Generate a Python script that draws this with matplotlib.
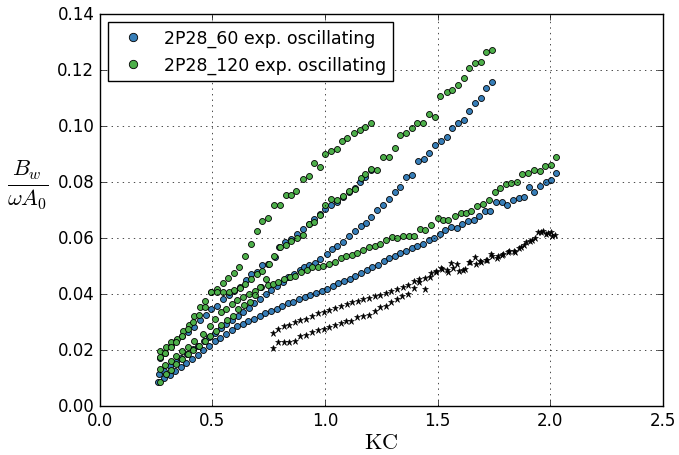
import matplotlib
matplotlib.use('Agg')
import matplotlib.pyplot as plt

# blue: 2P28_60 exp. oscillating (three runs)
b1_kc = [0.26, 0.285, 0.31, 0.335, 0.36, 0.385, 0.41, 0.435, 0.46, 0.485, 0.51, 0.535, 0.56, 0.585,
         0.61, 0.635, 0.66, 0.685, 0.71, 0.735, 0.76, 0.785, 0.81, 0.835, 0.86, 0.885, 0.91, 0.935,
         0.96, 0.985, 1.01, 1.035, 1.06, 1.085, 1.11, 1.135, 1.16, 1.185, 1.21, 1.235, 1.26, 1.285,
         1.31, 1.335, 1.36, 1.385, 1.41, 1.435, 1.46, 1.485, 1.51, 1.535, 1.56, 1.585, 1.61, 1.635,
         1.66, 1.685, 1.71, 1.735, 1.76, 1.785, 1.81, 1.835, 1.86, 1.885, 1.905, 1.93, 1.955, 1.98,
         2.005, 2.028]
b1_y = [0.0085, 0.0098, 0.011, 0.0125, 0.0137, 0.0152, 0.0168, 0.018, 0.0198, 0.0213, 0.023, 0.0243,
        0.0256, 0.0272, 0.0283, 0.0292, 0.0303, 0.0311, 0.0321, 0.0331, 0.0338, 0.0345, 0.0357, 0.0366,
        0.0372, 0.038, 0.0387, 0.0396, 0.0403, 0.041, 0.0418, 0.0427, 0.0437, 0.0445, 0.0454, 0.0462,
        0.0474, 0.0485, 0.0494, 0.0504, 0.0515, 0.0526, 0.0536, 0.0544, 0.0553, 0.0562, 0.0572, 0.0579,
        0.0591, 0.0599, 0.0612, 0.0627, 0.0637, 0.0633, 0.065, 0.066, 0.0664, 0.0678, 0.0695, 0.0696,
        0.0726, 0.0729, 0.0717, 0.0736, 0.0741, 0.0745, 0.0782, 0.0762, 0.0784, 0.0798, 0.0807, 0.083]

b2_kc = [0.262, 0.287, 0.312, 0.337, 0.362, 0.387, 0.412, 0.437, 0.462, 0.487, 0.512, 0.537, 0.562,
         0.587, 0.612, 0.637, 0.662, 0.687, 0.712, 0.737, 0.762, 0.787, 0.812, 0.837, 0.862, 0.887,
         0.905, 0.928, 0.955, 0.98, 1.007, 1.032, 1.055, 1.08, 1.107, 1.132, 1.158, 1.181, 1.206,
         1.233, 1.258, 1.285, 1.31, 1.335, 1.362, 1.387, 1.413, 1.439, 1.462, 1.49, 1.514, 1.54,
         1.565, 1.591, 1.616, 1.64, 1.665, 1.692, 1.717, 1.742]
b2_y = [0.0113, 0.0125, 0.0142, 0.0157, 0.0172, 0.0185, 0.0202, 0.0214, 0.0232, 0.0246, 0.026, 0.0279,
        0.0292, 0.0306, 0.032, 0.0336, 0.035, 0.0366, 0.0381, 0.0398, 0.0412, 0.0428, 0.0442, 0.0458,
        0.0472, 0.0486, 0.0496, 0.0503, 0.051, 0.0524, 0.0542, 0.056, 0.0571, 0.0586, 0.0605, 0.0625,
        0.064, 0.0651, 0.0675, 0.07, 0.0718, 0.0738, 0.0764, 0.0782, 0.0816, 0.0824, 0.0873, 0.0881,
        0.0901, 0.0932, 0.0946, 0.0961, 0.099, 0.1009, 0.1021, 0.1054, 0.108, 0.110, 0.1134, 0.1155]

b3_kc = [0.266, 0.29, 0.315, 0.34, 0.367, 0.392, 0.419, 0.445, 0.471, 0.496, 0.522, 0.548, 0.574,
         0.598, 0.623, 0.648, 0.673, 0.696, 0.722, 0.747, 0.777, 0.796, 0.822, 0.85, 0.877, 0.903,
         0.928, 0.952, 0.977, 1.002, 1.029, 1.055, 1.08, 1.107, 1.132, 1.155, 1.18, 1.206]
b3_y = [0.0169, 0.019, 0.0214, 0.023, 0.025, 0.0265, 0.028, 0.0305, 0.0325, 0.0345, 0.0357, 0.0381,
        0.0395, 0.041, 0.0425, 0.0448, 0.047, 0.0476, 0.0504, 0.0506, 0.053, 0.0566, 0.0584, 0.0595,
        0.0612, 0.0631, 0.065, 0.0667, 0.0685, 0.0702, 0.0715, 0.0728, 0.0745, 0.0762, 0.0778, 0.0798,
        0.0816, 0.0842]

# green: 2P28_120 exp. oscillating (four runs)
g1_kc = [0.266, 0.293, 0.318, 0.345, 0.37, 0.395, 0.419, 0.444, 0.469, 0.495, 0.52, 0.545, 0.57,
         0.595, 0.619, 0.647, 0.67, 0.696, 0.722, 0.747, 0.774, 0.799, 0.826, 0.851, 0.873, 0.903,
         0.928, 0.952, 0.977, 1.002, 1.029, 1.055, 1.076, 1.1, 1.128, 1.155, 1.18, 1.206]
g1_y = [0.0194, 0.0211, 0.0226, 0.0238, 0.0268, 0.029, 0.0319, 0.0351, 0.0373, 0.0405, 0.0418, 0.044,
        0.0456, 0.0475, 0.0497, 0.0534, 0.0578, 0.0625, 0.0661, 0.0669, 0.0718, 0.0718, 0.0753, 0.0754,
        0.0768, 0.081, 0.0821, 0.0867, 0.0851, 0.0899, 0.0911, 0.0917, 0.0946, 0.0955, 0.0973, 0.0985,
        0.0994, 0.1009]

g2_kc = [0.266, 0.29, 0.315, 0.34, 0.365, 0.39, 0.415, 0.44, 0.466, 0.496, 0.522, 0.547, 0.574,
         0.596, 0.622, 0.644, 0.67, 0.696, 0.72, 0.75, 0.775, 0.799, 0.826, 0.851, 0.877, 0.903,
         0.928, 0.952, 0.977, 1.002, 1.029, 1.055, 1.081, 1.107, 1.132, 1.159, 1.18, 1.206, 1.231,
         1.258, 1.283, 1.31, 1.335, 1.362, 1.387, 1.41, 1.436, 1.462, 1.488, 1.513, 1.54, 1.565,
         1.591, 1.616, 1.64, 1.667, 1.692, 1.717, 1.742]
g2_y = [0.0173, 0.019, 0.021, 0.0228, 0.025, 0.0275, 0.03, 0.0325, 0.0352, 0.0405, 0.0405, 0.0405,
        0.0406, 0.0414, 0.042, 0.0435, 0.0452, 0.047, 0.0482, 0.0506, 0.0535, 0.0566, 0.0575, 0.0588,
        0.0598, 0.061, 0.0649, 0.0655, 0.068, 0.0718, 0.0738, 0.0735, 0.075, 0.0768, 0.0774, 0.0812,
        0.0828, 0.0845, 0.0843, 0.0887, 0.0889, 0.092, 0.0967, 0.0973, 0.099, 0.101, 0.1009, 0.1042,
        0.103, 0.1107, 0.1119, 0.1129, 0.1146, 0.1169, 0.1205, 0.1224, 0.1226, 0.1264, 0.127]

g3_kc = [0.266, 0.29, 0.315, 0.34, 0.365, 0.39, 0.42, 0.459, 0.488, 0.511, 0.54, 0.562, 0.585, 0.61,
         0.636, 0.662, 0.688, 0.718, 0.745, 0.77, 0.792, 0.818, 0.844, 0.869, 0.893, 0.918, 0.943,
         0.967, 0.992, 1.017, 1.044, 1.069, 1.095, 1.12, 1.144, 1.169, 1.196, 1.221, 1.246, 1.273,
         1.298, 1.322, 1.347, 1.372, 1.396, 1.421, 1.446, 1.473, 1.5, 1.524, 1.547, 1.576, 1.602,
         1.625, 1.65, 1.675, 1.702, 1.729, 1.754, 1.776, 1.803, 1.828, 1.855, 1.877, 1.902, 1.929,
         1.954, 1.979, 2.003, 2.028]
g3_y = [0.013, 0.0145, 0.016, 0.0178, 0.0195, 0.021, 0.0232, 0.0256, 0.0286, 0.031, 0.0333, 0.0345,
        0.0363, 0.0378, 0.039, 0.0398, 0.0409, 0.0423, 0.043, 0.0435, 0.0441, 0.0452, 0.0459, 0.0464,
        0.0476, 0.0485, 0.0494, 0.0497, 0.05, 0.0506, 0.0514, 0.0527, 0.0534, 0.0539, 0.0545, 0.0555,
        0.0565, 0.0572, 0.0578, 0.0593, 0.0603, 0.06, 0.0607, 0.0607, 0.0607, 0.0632, 0.0627, 0.0647,
        0.067, 0.0663, 0.0663, 0.0679, 0.0688, 0.0688, 0.0696, 0.0714, 0.072, 0.0736, 0.0762, 0.0776,
        0.0792, 0.0794, 0.0798, 0.0828, 0.083, 0.0842, 0.0839, 0.0857, 0.0861, 0.0887]

g4_kc = [0.266, 0.292, 0.315, 0.34, 0.363, 0.39, 0.415, 0.44, 0.466, 0.49, 0.515, 0.54, 0.565, 0.59,
         0.615, 0.64, 0.665, 0.69, 0.71, 0.736]
g4_y = [0.0086, 0.0115, 0.0128, 0.0149, 0.0168, 0.0183, 0.0198, 0.0212, 0.023, 0.0248, 0.0268, 0.029,
        0.0305, 0.0322, 0.0345, 0.036, 0.0372, 0.0395, 0.0423, 0.0453]

# black stars (no legend entry)
s1_kc = [0.77, 0.792, 0.817, 0.84, 0.866, 0.891, 0.917, 0.943, 0.97, 0.994, 1.018, 1.044, 1.07, 1.096,
         1.122, 1.145, 1.169, 1.196, 1.221, 1.246, 1.27, 1.295, 1.32, 1.345, 1.369, 1.394, 1.418,
         1.443, 1.47, 1.492, 1.517, 1.54, 1.561, 1.588, 1.613, 1.64, 1.665, 1.69, 1.716, 1.739, 1.765,
         1.788, 1.813, 1.838, 1.862, 1.885, 1.909, 1.935, 1.961, 1.98, 2.006, 2.02]
s1_y = [0.026, 0.0274, 0.0286, 0.029, 0.0298, 0.0307, 0.031, 0.0321, 0.033, 0.0335, 0.0343, 0.0349,
        0.0357, 0.0362, 0.0369, 0.0374, 0.038, 0.0386, 0.0392, 0.0396, 0.0402, 0.041, 0.0417, 0.0424,
        0.0431, 0.0446, 0.0452, 0.0455, 0.0473, 0.0482, 0.0493, 0.0485, 0.0509, 0.0507, 0.0486, 0.0514,
        0.053, 0.0518, 0.0521, 0.0542, 0.0527, 0.0538, 0.0548, 0.0552, 0.0563, 0.0575, 0.0589, 0.06,
        0.0621, 0.0613, 0.0619, 0.061]

s2_kc = [0.767, 0.792, 0.817, 0.842, 0.866, 0.891, 0.917, 0.943, 0.97, 0.994, 1.018, 1.044, 1.07,
         1.095, 1.117, 1.143, 1.169, 1.196, 1.221, 1.246, 1.27, 1.295, 1.32, 1.344, 1.369, 1.394,
         1.418, 1.443, 1.468, 1.495, 1.52, 1.546, 1.57, 1.595, 1.62, 1.643, 1.669, 1.693, 1.718,
         1.744, 1.768, 1.792, 1.817, 1.842, 1.872, 1.894, 1.92, 1.946, 1.968, 1.99, 2.01]
s2_y = [0.0205, 0.0226, 0.0228, 0.0229, 0.023, 0.025, 0.0251, 0.0262, 0.0271, 0.0275, 0.028, 0.0287,
        0.0295, 0.0302, 0.0304, 0.0316, 0.0322, 0.0325, 0.0338, 0.0351, 0.0357, 0.0369, 0.0381, 0.0393,
        0.0399, 0.042, 0.0441, 0.0417, 0.0459, 0.0476, 0.0488, 0.0476, 0.049, 0.0482, 0.0488, 0.0514,
        0.0505, 0.0512, 0.052, 0.0534, 0.0536, 0.0543, 0.0552, 0.0548, 0.0566, 0.0584, 0.059, 0.062,
        0.0623, 0.0615, 0.0607]

blue = '#377eb8'
green = '#4daf4a'

plt.style.use('classic')
plt.rcParams['font.family'] = ['DejaVu Sans']
plt.rcParams['font.size'] = 12

fig = plt.figure(figsize=(6.79, 4.56), dpi=100, facecolor='white')
ax = fig.add_axes([0.147, 0.108, 0.829, 0.86])

mk = dict(linestyle='none', marker='o', markersize=4.3, markeredgecolor='black', markeredgewidth=0.6)

ax.plot(b1_kc, b1_y, color=blue, label='2P28_60 exp. oscillating', **mk)
ax.plot(b2_kc, b2_y, color=blue, **mk)
ax.plot(b3_kc, b3_y, color=blue, **mk)

ax.plot(g1_kc, g1_y, color=green, label='2P28_120 exp. oscillating', **mk)
ax.plot(g2_kc, g2_y, color=green, **mk)
ax.plot(g3_kc, g3_y, color=green, **mk)
ax.plot(g4_kc, g4_y, color=green, **mk)

# stars drawn last so they sit on top
star = dict(linestyle='none', marker='*', markersize=5, color='black', markeredgecolor='black',
            markeredgewidth=0.4)
ax.plot(s1_kc, s1_y, **star)
ax.plot(s2_kc, s2_y, **star)

ax.set_xlim(0, 2.5)
ax.set_ylim(0, 0.14)
ax.grid(True)

ax.set_xlabel(r'$\mathrm{KC}$', fontsize=16, labelpad=2)
ax.set_ylabel(r'$\frac{B_w}{\omega A_0}$', fontsize=23, rotation=0, ha='center', va='center')
ax.yaxis.set_label_coords(-0.128, 0.565)

ax.legend(loc='upper left', numpoints=1, markerscale=1.4, fontsize=12.5, frameon=True)

fig.savefig('out.png', dpi=100, facecolor='white')
